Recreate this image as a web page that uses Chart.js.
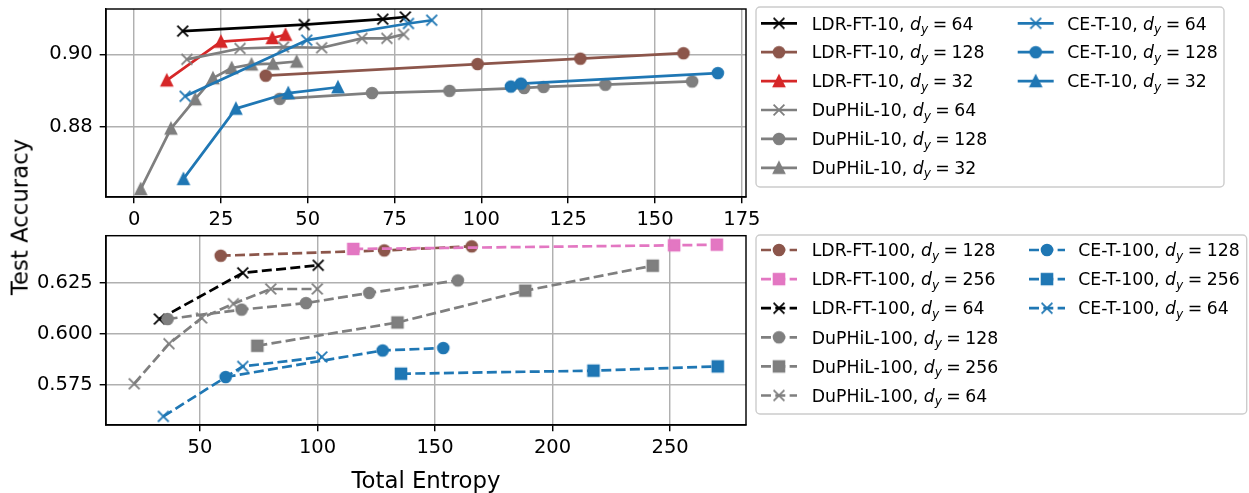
<!DOCTYPE html>
<html><head><meta charset="utf-8">
<script src="https://cdn.jsdelivr.net/npm/chart.js@4.4.0/dist/chart.umd.min.js"></script>
<style>
html,body{margin:0;padding:0;background:#fff;}
#wrap{position:relative;width:1249px;height:493px;overflow:hidden;background:#fff;}
canvas{position:absolute;left:0;top:0;}
.lab{position:absolute;font-family:'DejaVu Sans';font-size:22.8px;line-height:1;color:#000;white-space:nowrap;}
#xl{left:426px;top:480px;transform:translate(-50%,-50%);}
#yl{left:19.6px;top:217px;transform:translate(-50%,-50%) rotate(-90deg);}
</style></head><body>
<div id="wrap">
<canvas id="cTop" width="1249" height="493"></canvas>
<canvas id="cBot" width="1249" height="493"></canvas>
<div class="lab" id="xl">Total Entropy</div>
<div class="lab" id="yl">Test Accuracy</div>
</div>
<script>
// ---------- tick labels ----------
const topXTicks = [0, 25, 50, 75, 100, 125, 150, 175];
const topYTicks = [0.88, 0.90];
const botXTicks = [50, 100, 150, 200, 250];
const botYTicks = [0.575, 0.600, 0.625];

// ---------- top panel (10 classes) ----------
const ldrFT10_64_x  = [14.0, 49.0, 71.6, 78.1];
const ldrFT10_64_y  = [0.9064, 0.9082, 0.9097, 0.9103];
const ldrFT10_128_x = [37.9, 98.9, 128.5, 158.2];
const ldrFT10_128_y = [0.8941, 0.8973, 0.8988, 0.9003];
const ldrFT10_32_x  = [9.4, 25.0, 39.8, 43.6];
const ldrFT10_32_y  = [0.8928, 0.9035, 0.9045, 0.9054];
const duphil10_64_x  = [15.2, 30.5, 43.0, 54.0, 65.6, 72.8, 77.6];
const duphil10_64_y  = [0.8986, 0.9016, 0.9020, 0.9018, 0.9044, 0.9044, 0.9055];
const duphil10_128_x = [41.9, 68.5, 90.8, 112.3, 117.9, 135.7, 160.7];
const duphil10_128_y = [0.8877, 0.8893, 0.8899, 0.8907, 0.8910, 0.8916, 0.8925];
const duphil10_32_x  = [1.9, 10.6, 17.6, 22.7, 28.1, 33.8, 40.0, 46.8];
const duphil10_32_y  = [0.8628, 0.8795, 0.8876, 0.8934, 0.8962, 0.8972, 0.8974, 0.8980];
const ceT10_64_x  = [14.7, 49.7, 79.0, 85.7];
const ceT10_64_y  = [0.8884, 0.9039, 0.9085, 0.9094];
const ceT10_128_x = [108.5, 111.4, 168.1];
const ceT10_128_y = [0.8911, 0.8919, 0.8948];
const ceT10_32_x  = [14.2, 29.3, 44.4, 58.7];
const ceT10_32_y  = [0.8656, 0.8850, 0.8893, 0.8909];

// ---------- bottom panel (100 classes) ----------
const ldrFT100_128_x = [58.8, 128.4, 165.6];
const ldrFT100_128_y = [0.6382, 0.6408, 0.6428];
const ldrFT100_256_x = [115.2, 251.7, 269.9];
const ldrFT100_256_y = [0.6415, 0.6433, 0.6436];
const ldrFT100_64_x  = [32.7, 68.2, 100.3];
const ldrFT100_64_y  = [0.6072, 0.6298, 0.6335];
const duphil100_128_x = [36.2, 67.7, 95.1, 122.0, 159.7];
const duphil100_128_y = [0.6072, 0.6118, 0.6150, 0.6200, 0.6261];
const duphil100_256_x = [74.4, 134.0, 188.4, 242.6];
const duphil100_256_y = [0.5941, 0.6055, 0.6211, 0.6333];
const duphil100_64_x  = [22.0, 36.8, 50.7, 64.2, 80.1, 99.9];
const duphil100_64_y  = [0.5755, 0.5951, 0.6077, 0.6147, 0.6219, 0.6219];
const ceT100_128_x = [60.9, 127.7, 153.5];
const ceT100_128_y = [0.5788, 0.5918, 0.5930];
const ceT100_256_x = [135.5, 217.4, 270.3];
const ceT100_256_y = [0.5804, 0.5819, 0.5840];
const ceT100_64_x  = [34.4, 68.2, 101.8];
const ceT100_64_y  = [0.5595, 0.5840, 0.5886];

// ---------- styles ----------
const PT = 1.8;
const MS = 6 * PT, MEW = 1.0 * PT, LW = 1.5 * PT;
const C = { k:'#000000', brown:'#8c564b', red:'#d62728', gray:'#7f7f7f', blue:'#1f77b4', pink:'#e377c2' };
const FONT = 'DejaVu Sans';
const TICK_FS = 19.5;

function marker(kind, color) {
  const s = 20, c = document.createElement('canvas');
  c.width = s; c.height = s;
  const g = c.getContext('2d');
  g.translate(s / 2, s / 2);
  g.fillStyle = color; g.strokeStyle = color; g.lineWidth = MEW; g.lineJoin = 'miter';
  const h = MS / 2;
  g.beginPath();
  if (kind === 'o') { g.arc(0, 0, h, 0, Math.PI * 2); g.fill(); g.stroke(); }
  else if (kind === 's') { g.rect(-h, -h, MS, MS); g.fill(); g.stroke(); }
  else if (kind === '^') { g.moveTo(0, -h); g.lineTo(h, h); g.lineTo(-h, h); g.closePath(); g.fill(); g.stroke(); }
  else if (kind === 'x') { g.moveTo(-h, -h); g.lineTo(h, h); g.moveTo(-h, h); g.lineTo(h, -h); g.lineCap = 'butt'; g.stroke(); }
  return c;
}

function ds(name, dy, xs, ys, color, mk, dashed, idx) {
  return {
    label: name + ', d_y = ' + dy, mplName: name, mplDy: String(dy),
    data: xs.map((x, i) => ({ x: x, y: ys[i] })),
    showLine: true, borderColor: color, backgroundColor: color, borderWidth: LW,
    borderDash: dashed ? [3.7 * LW, 1.6 * LW] : [], borderJoinStyle: 'round', borderCapStyle: 'butt',
    pointStyle: marker(mk, color), pointRadius: 6, pointHoverRadius: 6, tension: 0,
    order: -idx
  };
}

const topDatasets = [
  ds('LDR-FT-10', 64, ldrFT10_64_x, ldrFT10_64_y, C.k, 'x', false, 0),
  ds('LDR-FT-10', 128, ldrFT10_128_x, ldrFT10_128_y, C.brown, 'o', false, 1),
  ds('LDR-FT-10', 32, ldrFT10_32_x, ldrFT10_32_y, C.red, '^', false, 2),
  ds('DuPHiL-10', 64, duphil10_64_x, duphil10_64_y, C.gray, 'x', false, 3),
  ds('DuPHiL-10', 128, duphil10_128_x, duphil10_128_y, C.gray, 'o', false, 4),
  ds('DuPHiL-10', 32, duphil10_32_x, duphil10_32_y, C.gray, '^', false, 5),
  ds('CE-T-10', 64, ceT10_64_x, ceT10_64_y, C.blue, 'x', false, 6),
  ds('CE-T-10', 128, ceT10_128_x, ceT10_128_y, C.blue, 'o', false, 7),
  ds('CE-T-10', 32, ceT10_32_x, ceT10_32_y, C.blue, '^', false, 8)
];
const botDatasets = [
  ds('LDR-FT-100', 128, ldrFT100_128_x, ldrFT100_128_y, C.brown, 'o', true, 0),
  ds('LDR-FT-100', 256, ldrFT100_256_x, ldrFT100_256_y, C.pink, 's', true, 1),
  ds('LDR-FT-100', 64, ldrFT100_64_x, ldrFT100_64_y, C.k, 'x', true, 2),
  ds('DuPHiL-100', 128, duphil100_128_x, duphil100_128_y, C.gray, 'o', true, 3),
  ds('DuPHiL-100', 256, duphil100_256_x, duphil100_256_y, C.gray, 's', true, 4),
  ds('DuPHiL-100', 64, duphil100_64_x, duphil100_64_y, C.gray, 'x', true, 5),
  ds('CE-T-100', 128, ceT100_128_x, ceT100_128_y, C.blue, 'o', true, 6),
  ds('CE-T-100', 256, ceT100_256_x, ceT100_256_y, C.blue, 's', true, 7),
  ds('CE-T-100', 64, ceT100_64_x, ceT100_64_y, C.blue, 'x', true, 8)
];

// ---------- plugins ----------
const framePlugin = {
  id: 'frame',
  afterDatasetsDraw(chart) {
    const a = chart.chartArea, ctx = chart.ctx;
    ctx.save(); ctx.strokeStyle = '#000'; ctx.lineWidth = 0.8 * PT;
    ctx.strokeRect(a.left, a.top, a.right - a.left, a.bottom - a.top);
    ctx.restore();
  }
};

function roundRect(ctx, x, y, w, h, r) {
  ctx.beginPath();
  ctx.moveTo(x + r, y); ctx.lineTo(x + w - r, y); ctx.arcTo(x + w, y, x + w, y + r, r);
  ctx.lineTo(x + w, y + h - r); ctx.arcTo(x + w, y + h, x + w - r, y + h, r);
  ctx.lineTo(x + r, y + h); ctx.arcTo(x, y + h, x, y + h - r, r);
  ctx.lineTo(x, y + r); ctx.arcTo(x, y, x + r, y, r); ctx.closePath();
}

function drawLabel(ctx, name, val, x, base, fs) {
  ctx.fillStyle = '#000'; ctx.textBaseline = 'alphabetic'; ctx.textAlign = 'left';
  const pre = name + ', ';
  ctx.font = fs + 'px "' + FONT + '"'; ctx.fillText(pre, x, base); x += ctx.measureText(pre).width;
  ctx.font = 'italic ' + fs + 'px "' + FONT + '"'; ctx.fillText('d', x, base); x += ctx.measureText('d').width;
  const ss = fs * 0.7;
  ctx.font = 'italic ' + ss + 'px "' + FONT + '"'; ctx.fillText('y', x, base + 0.2 * fs); x += ctx.measureText('y').width;
  ctx.font = fs + 'px "' + FONT + '"';
  x += 0.26 * fs; ctx.fillText('=', x, base); x += ctx.measureText('=').width + 0.26 * fs;
  ctx.fillText(val, x, base);
}

const legendPlugin = {
  id: 'mplLegend',
  afterDraw(chart, args, L) {
    const ctx = chart.ctx;
    ctx.save();
    roundRect(ctx, L.x0, L.y0, L.x1 - L.x0, L.y1 - L.y0, 4);
    ctx.fillStyle = 'rgba(255,255,255,0.8)'; ctx.fill();
    ctx.strokeStyle = '#cccccc'; ctx.lineWidth = 1.4; ctx.stroke();
    chart.data.datasets.forEach((d, i) => {
      const col = Math.floor(i / L.rows), row = i % L.rows;
      const y = L.rowY0 + row * L.rowH;
      const hx = L.handleX[col], tx = L.textX[col];
      ctx.beginPath(); ctx.setLineDash(d.borderDash); ctx.lineCap = 'butt';
      ctx.strokeStyle = d.borderColor; ctx.lineWidth = d.borderWidth;
      ctx.moveTo(hx, y); ctx.lineTo(hx + L.handleLen, y); ctx.stroke(); ctx.setLineDash([]);
      const m = d.pointStyle;
      ctx.drawImage(m, hx + L.handleLen / 2 - m.width / 2, y - m.height / 2);
      drawLabel(ctx, d.mplName, d.mplDy, tx, y + 0.36 * L.fs, L.fs);
    });
    ctx.restore();
  }
};

function axis(min, max, ticks, fmt, fitFn, pad) {
  return {
    type: 'linear', min: min, max: max,
    afterBuildTicks: s => { s.ticks = ticks.map(v => ({ value: v })); },
    afterFit: s => { fitFn(s); s.paddingTop = 0; s.paddingBottom = 0; s.paddingLeft = 0; s.paddingRight = 0; },
    grid: { color: '#b0b0b0', lineWidth: 0.8 * PT, tickColor: '#000', tickLength: 6.3, tickWidth: 0.8 * PT, drawTicks: true },
    border: { display: true, color: '#000', width: 0.8 * PT },
    ticks: { font: { family: FONT, size: TICK_FS }, color: '#000', padding: pad, maxRotation: 0, autoSkip: false, callback: fmt }
  };
}

function makeChart(id, datasets, xr, yr, xt, yt, yfmt, pad, xAxisH, legend) {
  return new Chart(document.getElementById(id), {
    type: 'scatter',
    data: { datasets: datasets },
    options: {
      responsive: false, animation: false, devicePixelRatio: 1, events: [],
      layout: { padding: pad },
      scales: {
        x: axis(xr[0], xr[1], xt, v => String(v), s => { s.height = xAxisH; }, 5),
        y: axis(yr[0], yr[1], yt, yfmt, s => { s.width = 106; }, 7)
      },
      plugins: { legend: { display: false }, tooltip: { enabled: false }, mplLegend: legend }
    },
    plugins: [framePlugin, legendPlugin]
  });
}

makeChart('cTop', topDatasets, [-8.1, 176.2], [0.8606, 0.9125], topXTicks, topYTicks, v => v.toFixed(2),
  { left: 0, top: 9, right: 503, bottom: 265 }, 31,
  { x0: 756, y0: 7, x1: 1224, y1: 187, rows: 6, rowY0: 23.3, rowH: 28.9, handleX: [761, 1017.7], handleLen: 36, textX: [811.7, 1067.3], fs: 17.3 });

makeChart('cBot', botDatasets, [10, 282.3], [0.5553, 0.648], botXTicks, botYTicks, v => v.toFixed(3),
  { left: 0, top: 235.7, right: 503, bottom: 0 }, 68,
  { x0: 756, y0: 235, x1: 1246.7, y1: 414, rows: 6, rowY0: 250, rowH: 29.1, handleX: [761, 1029], handleLen: 36, textX: [811.7, 1078.3], fs: 17.3 });
</script>
</body></html>
